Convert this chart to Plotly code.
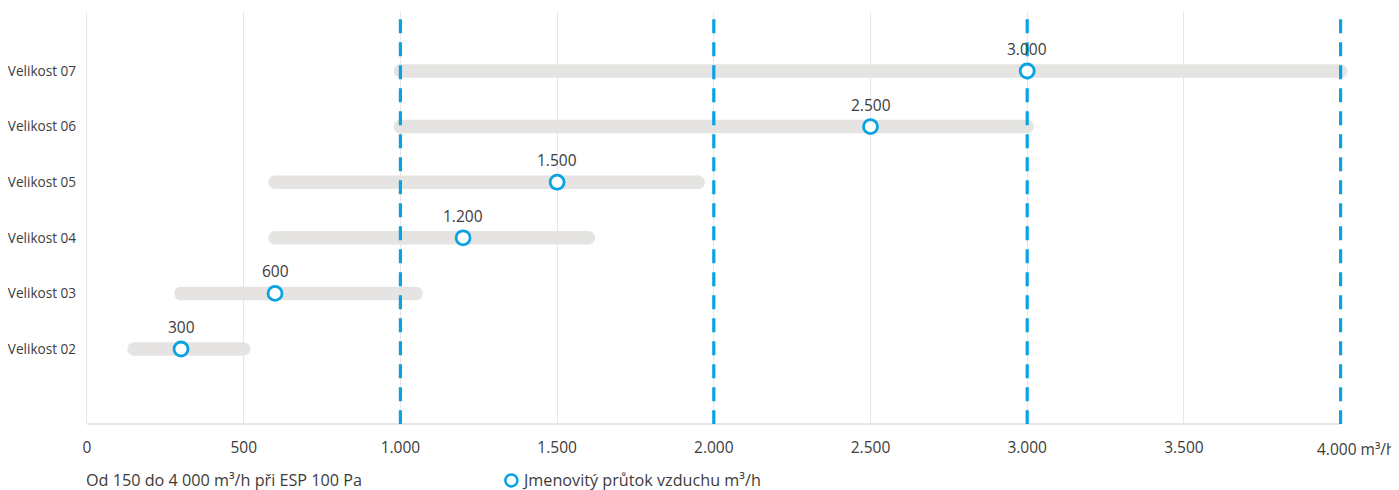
import plotly.graph_objects as go

# ---- data ----
categories = ["Velikost 02", "Velikost 03", "Velikost 04", "Velikost 05", "Velikost 06", "Velikost 07"]
range_min = [150, 300, 600, 600, 1000, 1000]
range_max = [500, 1050, 1600, 1950, 3000, 4000]
nominal = [300, 600, 1200, 1500, 2500, 3000]
nominal_labels = ["300", "600", "1.200", "1.500", "2.500", "3.000"]
dashed_x = [1000, 2000, 3000, 4000]
tick_vals = [0, 500, 1000, 1500, 2000, 2500, 3000, 3500, 4000]
tick_text = ["0", "500", "1.000", "1.500", "2.000", "2.500", "3.000", "3.500", "4.000"]
legend_range = "Od 150 do 4 000 m³/h při ESP 100 Pa"
legend_nominal = "Jmenovitý průtok vzduchu m³/h"
unit_label = "m³/h"

BLUE = "#0aa2e2"
GRAY_BAR = "#e5e4e2"
GRID = "#e6e6e6"
TEXT = "#3c3c3c"
FONT = "Open Sans"
FS_Y = 13.6
FS_X = 15.5
FS_VAL = 15.5
FS_LEG = 16.2

fig = go.Figure()

# range bars (with rounded caps via end markers)
for i, (a, b) in enumerate(zip(range_min, range_max)):
    fig.add_trace(go.Scatter(
        x=[a, b], y=[i, i], mode="lines+markers",
        line=dict(color=GRAY_BAR, width=13.5),
        marker=dict(color=GRAY_BAR, size=13.5, line=dict(width=0)),
        hoverinfo="skip", showlegend=False))

# dashed blue verticals
top_y = 5.93
bot_y = -1.349
for xv in dashed_x:
    fig.add_trace(go.Scatter(
        x=[xv, xv], y=[top_y, bot_y], mode="lines",
        line=dict(color=BLUE, width=3.2, dash="14px,9px"),
        hoverinfo="skip", showlegend=False))

# nominal markers
fig.add_trace(go.Scatter(
    x=nominal, y=list(range(len(categories))), mode="markers",
    marker=dict(symbol="circle", size=14, color="white", line=dict(color=BLUE, width=2.8)),
    showlegend=False, hoverinfo="skip"))

annotations = []
for i, (xv, lab) in enumerate(zip(nominal, nominal_labels)):
    annotations.append(dict(x=xv, y=i, xref="x", yref="y", text=lab, showarrow=False,
                            yshift=22, font=dict(family=FONT, size=FS_VAL, color=TEXT)))

# last tick label with unit
annotations.append(dict(x=tick_vals[-1], y=-0.0607, xref="x", yref="paper",
                        text=tick_text[-1] + " " + unit_label, showarrow=False,
                        xanchor="left", yanchor="middle", xshift=-26,
                        font=dict(family=FONT, size=FS_X, color=TEXT)))
# legend texts
annotations.append(dict(x=0, y=-0.136, xref="paper", yref="paper", text=legend_range, showarrow=False,
                        xanchor="left", yanchor="middle", xshift=-3,
                        font=dict(family=FONT, size=FS_LEG, color=TEXT)))
annotations.append(dict(x=0.3445, y=-0.136, xref="paper", yref="paper", text=legend_nominal, showarrow=False,
                        xanchor="left", yanchor="middle", xshift=-2,
                        font=dict(family=FONT, size=FS_LEG, color=TEXT)))

shapes = [
    dict(type="line", xref="x", yref="paper", x0=0, x1=4000, y0=0, y1=0,
         line=dict(color=GRID, width=2), layer="below"),
    dict(type="circle", xref="paper", yref="paper",
         xsizemode="pixel", ysizemode="pixel",
         xanchor=0.336, yanchor=-0.137,
         x0=-6, x1=6, y0=-6, y1=6,
         line=dict(color=BLUE, width=2.5), fillcolor="white"),
]

# page body adds an 8px offset; compensate in size and margins
fig.update_layout(
    width=1391, height=482,
    margin=dict(l=78.7, r=48.9, t=4, b=66, autoexpand=False),
    plot_bgcolor="white", paper_bgcolor="white",
    font=dict(family=FONT, size=FS_X, color=TEXT),
    annotations=annotations, shapes=shapes,
    showlegend=False,
    xaxis=dict(range=[0, 4030], tickvals=tick_vals[:-1], ticktext=tick_text[:-1],
               showgrid=True, gridcolor=GRID, gridwidth=1.3,
               showline=False,
               zeroline=False, ticks="", ticklabelstandoff=12,
               tickfont=dict(family=FONT, size=FS_X, color=TEXT)),
    yaxis=dict(range=[-1.349, 6.061], tickvals=list(range(len(categories))), ticktext=categories,
               showgrid=False, zeroline=False, showline=True, linecolor=GRID, linewidth=1.3,
               ticks="", ticklabelstandoff=7,
               tickfont=dict(family=FONT, size=FS_Y, color=TEXT)),
)

fig.write_html("out.html")
